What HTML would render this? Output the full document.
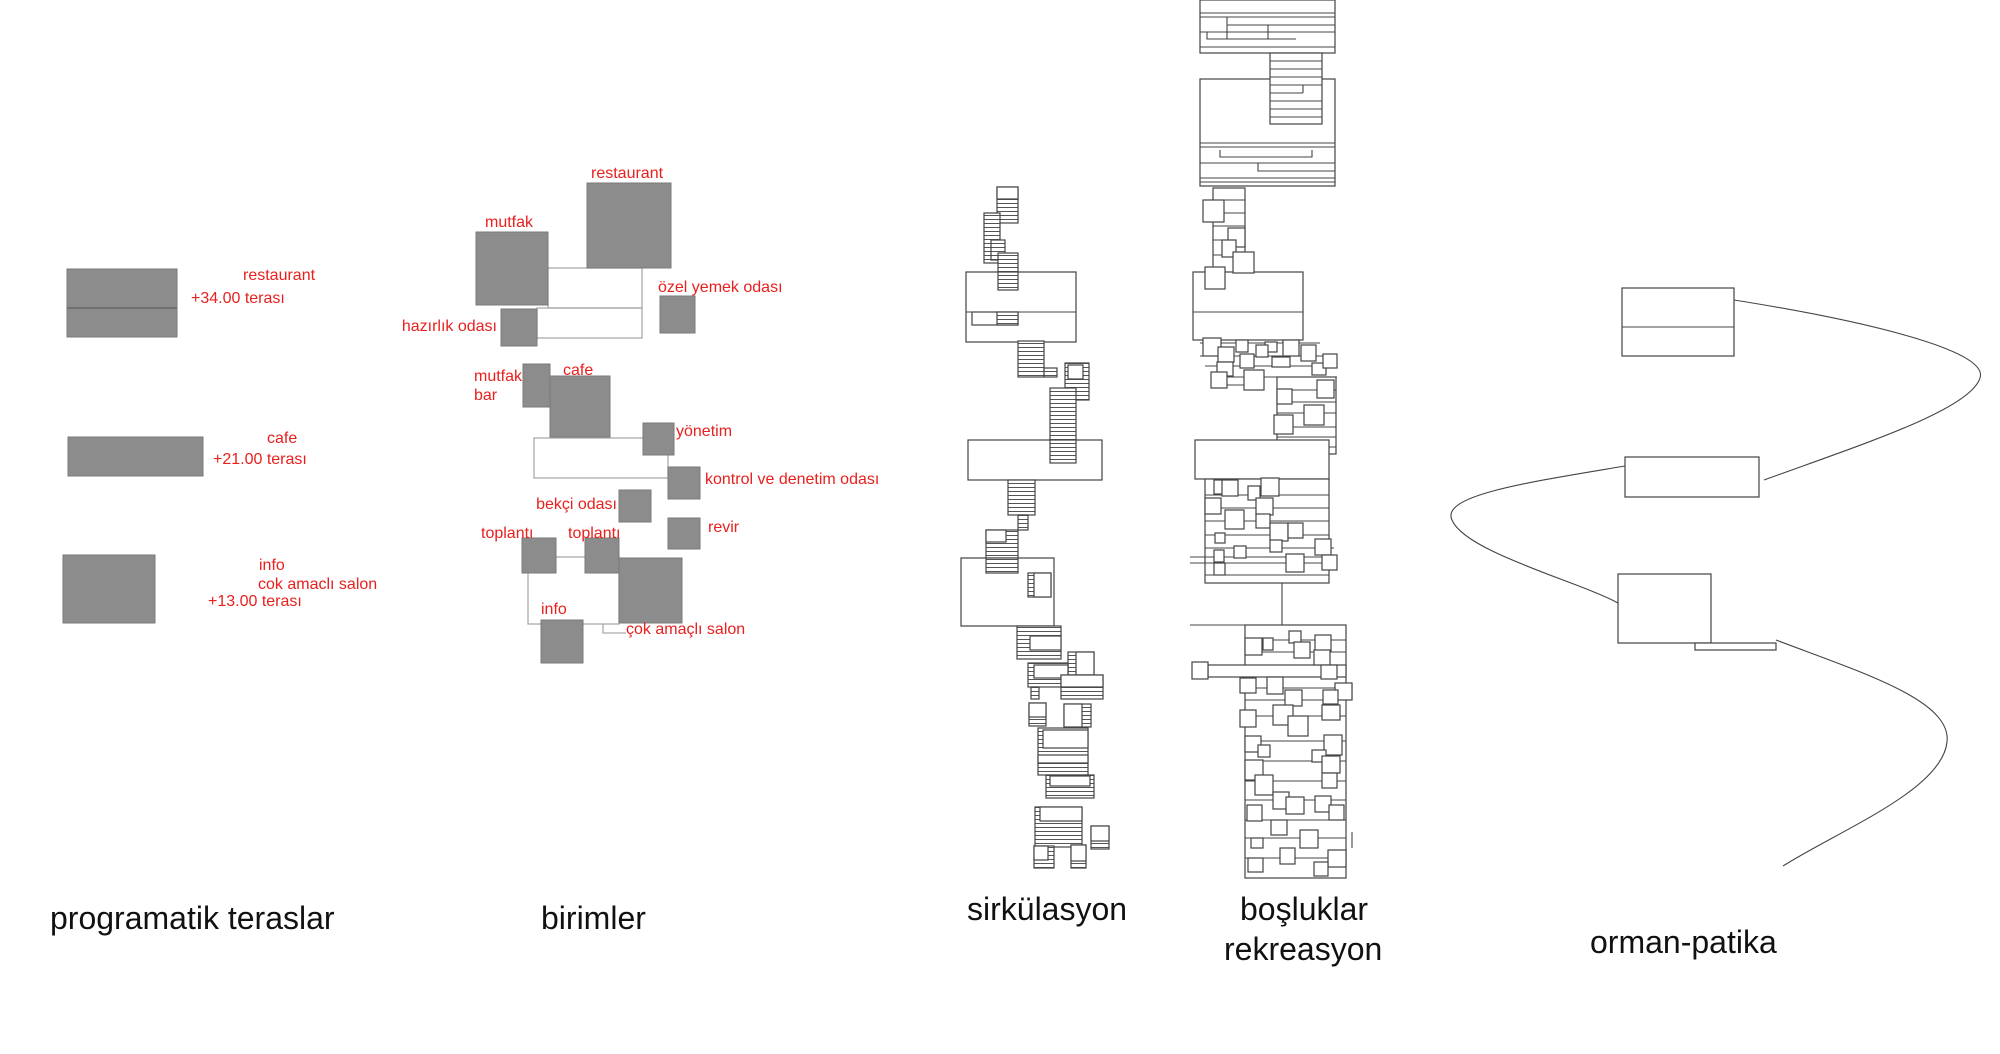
<!DOCTYPE html>
<html><head><meta charset="utf-8"><style>
html,body{margin:0;padding:0;background:#fff;}
svg{display:block;}
.r{fill:#e8201e;font-family:"Liberation Sans",sans-serif;font-size:16px;}
.t{fill:#111;font-family:"Liberation Sans",sans-serif;font-size:32px;}
.g{fill:#8c8c8c;stroke:#7a7a7a;stroke-width:1;}
.o{fill:none;stroke:#aaa;stroke-width:1.3;}
.k{fill:#fff;stroke:#444;stroke-width:1.2;}
.h{fill:url(#hp);stroke:#444;stroke-width:1.2;}
.l{stroke:#444;stroke-width:1.1;fill:none;}
</style></head><body>
<svg width="2000" height="1054" viewBox="0 0 2000 1054" xmlns="http://www.w3.org/2000/svg">
<defs>
<pattern id="hp" width="6" height="4" patternUnits="userSpaceOnUse"><rect width="6" height="4" fill="#fff"/><line x1="0" y1="3.5" x2="6" y2="3.5" stroke="#555" stroke-width="1"/></pattern>
</defs>

<!-- programatik teraslar -->
<rect class="g" x="67" y="269" width="110" height="68"/>
<line x1="67" y1="308" x2="177" y2="308" stroke="#666" stroke-width="1.5"/>
<rect class="g" x="68" y="437" width="135" height="39"/>
<rect class="g" x="63" y="555" width="92" height="68"/>
<text class="r" x="243" y="280">restaurant</text>
<text class="r" x="191" y="303">+34.00 terası</text>
<text class="r" x="267" y="443">cafe</text>
<text class="r" x="213" y="464">+21.00 terası</text>
<text class="r" x="259" y="570">info</text>
<text class="r" x="258" y="589">cok amaclı salon</text>
<text class="r" x="208" y="606">+13.00 terası</text>

<!-- birimler -->
<rect class="o" x="548" y="268" width="94" height="40"/>
<rect class="o" x="537" y="308" width="105" height="30"/>
<rect class="o" x="534" y="438" width="134" height="40"/>
<rect class="o" x="528" y="557" width="91" height="67"/>
<polyline class="o" points="603,624 603,633 626,633"/>
<rect class="g" x="587" y="183" width="84" height="85"/>
<rect class="g" x="476" y="232" width="72" height="73"/>
<rect class="g" x="501" y="309" width="36" height="37"/>
<rect class="g" x="660" y="296" width="35" height="37"/>
<rect class="g" x="523" y="364" width="27" height="43"/>
<rect class="g" x="550" y="376" width="60" height="61"/>
<rect class="g" x="643" y="423" width="31" height="32"/>
<rect class="g" x="668" y="467" width="32" height="32"/>
<rect class="g" x="619" y="490" width="32" height="32"/>
<rect class="g" x="668" y="518" width="32" height="31"/>
<rect class="g" x="522" y="538" width="34" height="35"/>
<rect class="g" x="585" y="538" width="34" height="35"/>
<rect class="g" x="619" y="558" width="63" height="65"/>
<rect class="g" x="541" y="620" width="42" height="43"/>
<text class="r" x="591" y="178">restaurant</text>
<text class="r" x="485" y="227">mutfak</text>
<text class="r" x="497" y="331" text-anchor="end">hazırlık odası</text>
<text class="r" x="658" y="292">özel yemek odası</text>
<text class="r" x="474" y="381">mutfak</text>
<text class="r" x="474" y="400">bar</text>
<text class="r" x="563" y="375">cafe</text>
<text class="r" x="676" y="436">yönetim</text>
<text class="r" x="705" y="484">kontrol ve denetim odası</text>
<text class="r" x="617" y="509" text-anchor="end">bekçi odası</text>
<text class="r" x="708" y="532">revir</text>
<text class="r" x="481" y="538">toplantı</text>
<text class="r" x="568" y="538">toplantı</text>
<text class="r" x="541" y="614">info</text>
<text class="r" x="626" y="634">çok amaçlı salon</text>

<!-- sirkülasyon -->
<rect class="h" x="997" y="187" width="21" height="36"/>
<rect class="k" x="997" y="187" width="21" height="12"/>
<rect class="h" x="984" y="213" width="16" height="50"/>
<rect class="h" x="991" y="240" width="14" height="20"/>
<rect class="h" x="998" y="253" width="20" height="35"/>
<rect class="k" x="966" y="272" width="110" height="70"/>
<line class="l" x1="966" y1="312" x2="1076" y2="312"/>
<rect class="k" x="972" y="312" width="46" height="13"/>
<rect class="h" x="997" y="312" width="21" height="13"/>
<rect class="h" x="998" y="272" width="20" height="18"/>
<rect class="h" x="1018" y="341" width="26" height="36"/>
<rect class="h" x="1044" y="368" width="13" height="9"/>
<rect class="h" x="1065" y="363" width="24" height="37"/>
<rect class="k" x="1068" y="365" width="15" height="14"/>
<rect class="h" x="1050" y="388" width="26" height="75"/>
<rect class="k" x="968" y="440" width="134" height="40"/>
<rect class="h" x="1050" y="440" width="26" height="23"/>
<rect class="h" x="1008" y="480" width="27" height="35"/>
<rect class="h" x="1018" y="515" width="10" height="15"/>
<rect class="h" x="986" y="530" width="32" height="43"/>
<rect class="k" x="986" y="530" width="20" height="12"/>
<rect class="k" x="961" y="558" width="93" height="68"/>
<rect class="h" x="986" y="558" width="32" height="15"/>
<rect class="h" x="1028" y="573" width="23" height="24"/>
<rect class="k" x="1034" y="573" width="17" height="24"/>
<rect class="h" x="1017" y="626" width="44" height="33"/>
<rect class="k" x="1030" y="636" width="31" height="14"/>
<rect class="h" x="1068" y="652" width="26" height="23"/>
<rect class="k" x="1076" y="652" width="18" height="23"/>
<rect class="h" x="1028" y="663" width="40" height="24"/>
<rect class="k" x="1034" y="665" width="34" height="13"/>
<rect class="h" x="1061" y="675" width="42" height="24"/>
<rect class="k" x="1061" y="675" width="42" height="12"/>
<rect class="h" x="1031" y="687" width="8" height="12"/>
<rect class="h" x="1029" y="703" width="17" height="23"/>
<rect class="k" x="1029" y="703" width="17" height="14"/>
<rect class="h" x="1064" y="704" width="27" height="23"/>
<rect class="k" x="1064" y="704" width="18" height="23"/>
<rect class="h" x="1038" y="728" width="50" height="47"/>
<rect class="k" x="1043" y="730" width="45" height="18"/>
<rect class="k" x="1038" y="755" width="50" height="8"/>
<rect class="h" x="1046" y="775" width="48" height="23"/>
<rect class="k" x="1050" y="776" width="40" height="10"/>
<rect class="h" x="1035" y="807" width="47" height="40"/>
<rect class="k" x="1040" y="807" width="42" height="14"/>
<rect class="h" x="1091" y="826" width="18" height="23"/>
<rect class="k" x="1091" y="826" width="18" height="15"/>
<rect class="h" x="1034" y="846" width="20" height="22"/>
<rect class="k" x="1034" y="846" width="14" height="14"/>
<rect class="h" x="1071" y="845" width="15" height="23"/>
<rect class="k" x="1071" y="845" width="15" height="16"/>

<!-- boşluklar -->
<rect class="k" x="1200" y="0" width="135" height="53"/>
<g class="l">
<line x1="1200" y1="13" x2="1335" y2="13"/><line x1="1200" y1="17" x2="1335" y2="17"/>
<line x1="1200" y1="32" x2="1335" y2="32"/><line x1="1200" y1="47" x2="1335" y2="47"/>
<polyline points="1227,17 1227,39 1296,39"/><polyline points="1207,32 1207,39 1227,39"/>
<line x1="1227" y1="25" x2="1335" y2="25"/><line x1="1268" y1="25" x2="1268" y2="39"/>
</g>
<rect class="k" x="1200" y="79" width="135" height="107"/>
<rect class="k" x="1270" y="53" width="52" height="71"/>
<g class="l">
<line x1="1270" y1="61" x2="1322" y2="61"/><line x1="1270" y1="69" x2="1322" y2="69"/>
<line x1="1270" y1="77" x2="1322" y2="77"/><line x1="1270" y1="85" x2="1322" y2="85"/>
<line x1="1270" y1="93" x2="1303" y2="93"/><polyline points="1303,85 1303,93"/>
<line x1="1270" y1="101" x2="1322" y2="101"/><line x1="1270" y1="109" x2="1322" y2="109"/>
<line x1="1270" y1="117" x2="1322" y2="117"/>
<line x1="1200" y1="143" x2="1335" y2="143"/><line x1="1200" y1="147" x2="1335" y2="147"/>
<line x1="1200" y1="163" x2="1335" y2="163"/><line x1="1200" y1="178" x2="1335" y2="178"/>
<line x1="1200" y1="182" x2="1335" y2="182"/>
<polyline points="1220,150 1220,157 1312,157 1312,150"/>
<polyline points="1258,163 1258,171 1335,171"/>
</g>
<rect class="k" x="1213" y="188" width="32" height="90"/>
<g class="l"><line x1="1213" y1="200" x2="1245" y2="200"/><line x1="1213" y1="213" x2="1245" y2="213"/><line x1="1213" y1="226" x2="1245" y2="226"/><line x1="1213" y1="240" x2="1245" y2="240"/><line x1="1213" y1="255" x2="1245" y2="255"/></g>
<rect class="k" x="1203" y="200" width="21" height="22"/>
<rect class="k" x="1228" y="228" width="17" height="19"/>
<rect class="k" x="1222" y="240" width="14" height="17"/>
<rect class="k" x="1193" y="272" width="110" height="68"/>
<line class="l" x1="1193" y1="312" x2="1303" y2="312"/>
<rect class="k" x="1233" y="252" width="21" height="21"/>
<rect class="k" x="1205" y="267" width="20" height="22"/>

<!-- region A -->
<g class="l"><line x1="1200" y1="343" x2="1320" y2="343"/><line x1="1200" y1="356" x2="1330" y2="356"/><line x1="1205" y1="366" x2="1330" y2="366"/><line x1="1215" y1="377" x2="1337" y2="377"/><line x1="1225" y1="385" x2="1260" y2="385"/></g>
<rect class="k" x="1203" y="338" width="18" height="18"/>
<rect class="k" x="1218" y="347" width="16" height="15"/>
<rect class="k" x="1217" y="362" width="16" height="14"/>
<rect class="k" x="1236" y="340" width="12" height="12"/>
<rect class="k" x="1240" y="354" width="14" height="14"/>
<rect class="k" x="1244" y="370" width="20" height="20"/>
<rect class="k" x="1265" y="342" width="12" height="10"/>
<rect class="k" x="1272" y="357" width="18" height="10"/>
<rect class="k" x="1283" y="340" width="16" height="16"/>
<rect class="k" x="1301" y="345" width="15" height="16"/>
<rect class="k" x="1312" y="363" width="14" height="12"/>
<rect class="k" x="1323" y="354" width="14" height="14"/>
<rect class="k" x="1211" y="372" width="16" height="16"/>
<rect class="k" x="1256" y="345" width="12" height="12"/>
<!-- column B -->
<rect class="k" x="1277" y="377" width="59" height="77"/>
<g class="l"><line x1="1277" y1="390" x2="1336" y2="390"/><line x1="1277" y1="402" x2="1336" y2="402"/><line x1="1277" y1="413" x2="1336" y2="413"/><line x1="1277" y1="427" x2="1336" y2="427"/><line x1="1277" y1="437" x2="1336" y2="437"/><line x1="1277" y1="447" x2="1336" y2="447"/></g>
<rect class="k" x="1277" y="389" width="15" height="15"/>
<rect class="k" x="1317" y="380" width="17" height="18"/>
<rect class="k" x="1304" y="405" width="20" height="20"/>
<rect class="k" x="1274" y="415" width="19" height="19"/>
<rect class="k" x="1195" y="440" width="134" height="39"/>
<!-- region C -->
<rect class="k" x="1205" y="479" width="124" height="104"/>
<g class="l"><line x1="1205" y1="495" x2="1329" y2="495"/><line x1="1205" y1="508" x2="1329" y2="508"/><line x1="1205" y1="521" x2="1329" y2="521"/><line x1="1205" y1="535" x2="1329" y2="535"/><line x1="1205" y1="548" x2="1334" y2="548"/><line x1="1190" y1="557" x2="1334" y2="557"/><line x1="1190" y1="563" x2="1334" y2="563"/><line x1="1205" y1="575" x2="1329" y2="575"/><line x1="1282" y1="583" x2="1282" y2="625"/></g>
<rect class="k" x="1214" y="480" width="14" height="14"/>
<rect class="k" x="1222" y="480" width="16" height="16"/>
<rect class="k" x="1248" y="486" width="12" height="14"/>
<rect class="k" x="1261" y="478" width="18" height="18"/>
<rect class="k" x="1205" y="498" width="16" height="16"/>
<rect class="k" x="1225" y="510" width="19" height="19"/>
<rect class="k" x="1256" y="498" width="17" height="17"/>
<rect class="k" x="1256" y="514" width="14" height="14"/>
<rect class="k" x="1270" y="523" width="18" height="18"/>
<rect class="k" x="1288" y="523" width="15" height="15"/>
<rect class="k" x="1215" y="533" width="10" height="10"/>
<rect class="k" x="1234" y="546" width="12" height="12"/>
<rect class="k" x="1286" y="554" width="18" height="18"/>
<rect class="k" x="1315" y="539" width="16" height="16"/>
<rect class="k" x="1322" y="555" width="15" height="15"/>
<rect class="k" x="1214" y="550" width="10" height="12"/>
<rect class="k" x="1270" y="540" width="12" height="12"/>
<rect class="k" x="1214" y="563" width="11" height="12"/>
<line class="l" x1="1190" y1="625" x2="1346" y2="625"/>
<!-- region D -->
<rect class="k" x="1245" y="625" width="101" height="253"/>
<g class="l">
<line x1="1245" y1="640" x2="1346" y2="640"/><line x1="1245" y1="652" x2="1346" y2="652"/>
<line x1="1245" y1="688" x2="1346" y2="688"/><line x1="1245" y1="700" x2="1346" y2="700"/>
<line x1="1245" y1="716" x2="1346" y2="716"/><line x1="1245" y1="741" x2="1346" y2="741"/>
<line x1="1245" y1="761" x2="1346" y2="761"/><line x1="1245" y1="781" x2="1346" y2="781"/>
<line x1="1245" y1="800" x2="1346" y2="800"/><line x1="1245" y1="820" x2="1346" y2="820"/>
<line x1="1245" y1="838" x2="1346" y2="838"/><line x1="1245" y1="858" x2="1346" y2="858"/>
<line x1="1352" y1="683" x2="1352" y2="700"/><line x1="1352" y1="832" x2="1352" y2="848"/>
</g>
<rect class="k" x="1208" y="665" width="138" height="12"/>
<rect class="k" x="1192" y="662" width="16" height="17"/>
<rect class="k" x="1245" y="638" width="17" height="17"/>
<rect class="k" x="1263" y="638" width="10" height="12"/>
<rect class="k" x="1289" y="631" width="12" height="12"/>
<rect class="k" x="1294" y="642" width="16" height="16"/>
<rect class="k" x="1315" y="635" width="16" height="16"/>
<rect class="k" x="1314" y="650" width="16" height="15"/>
<rect class="k" x="1321" y="665" width="16" height="14"/>
<rect class="k" x="1240" y="678" width="16" height="15"/>
<rect class="k" x="1267" y="677" width="16" height="17"/>
<rect class="k" x="1285" y="690" width="17" height="16"/>
<rect class="k" x="1335" y="683" width="17" height="17"/>
<rect class="k" x="1323" y="690" width="15" height="14"/>
<rect class="k" x="1322" y="705" width="18" height="15"/>
<rect class="k" x="1240" y="710" width="16" height="17"/>
<rect class="k" x="1273" y="705" width="20" height="20"/>
<rect class="k" x="1288" y="716" width="20" height="20"/>
<rect class="k" x="1324" y="735" width="18" height="20"/>
<rect class="k" x="1245" y="736" width="16" height="16"/>
<rect class="k" x="1258" y="745" width="12" height="12"/>
<rect class="k" x="1312" y="750" width="14" height="12"/>
<rect class="k" x="1322" y="756" width="18" height="17"/>
<rect class="k" x="1245" y="760" width="18" height="20"/>
<rect class="k" x="1255" y="775" width="18" height="20"/>
<rect class="k" x="1322" y="773" width="15" height="15"/>
<rect class="k" x="1273" y="792" width="16" height="17"/>
<rect class="k" x="1286" y="797" width="18" height="17"/>
<rect class="k" x="1315" y="796" width="16" height="16"/>
<rect class="k" x="1329" y="805" width="15" height="15"/>
<rect class="k" x="1247" y="805" width="15" height="16"/>
<rect class="k" x="1271" y="820" width="16" height="15"/>
<rect class="k" x="1300" y="830" width="18" height="18"/>
<rect class="k" x="1251" y="838" width="12" height="10"/>
<rect class="k" x="1280" y="848" width="15" height="16"/>
<rect class="k" x="1328" y="850" width="18" height="17"/>
<rect class="k" x="1248" y="858" width="15" height="14"/>
<rect class="k" x="1314" y="862" width="14" height="14"/>

<!-- orman-patika -->
<rect class="k" x="1622" y="288" width="112" height="68"/>
<line class="l" x1="1622" y1="327" x2="1734" y2="327"/>
<rect class="k" x="1625" y="457" width="134" height="40"/>
<rect class="k" x="1618" y="574" width="93" height="69"/>
<rect class="k" x="1695" y="643" width="81" height="7"/>
<path class="l" d="M1734,300 C1860,320 1990,350 1980,378 C1970,410 1860,445 1764,480"/>
<path class="l" d="M1625,466 C1530,482 1440,495 1452,520 C1465,552 1580,582 1618,603"/>
<path class="l" d="M1776,640 C1860,672 1952,700 1947,742 C1942,790 1840,830 1783,866"/>

<!-- titles -->
<text class="t" x="50" y="929">programatik teraslar</text>
<text class="t" x="541" y="929">birimler</text>
<text class="t" x="967" y="920">sirkülasyon</text>
<text class="t" x="1240" y="920">boşluklar</text>
<text class="t" x="1224" y="960">rekreasyon</text>
<text class="t" x="1590" y="953">orman-patika</text>
</svg>
</body></html>
